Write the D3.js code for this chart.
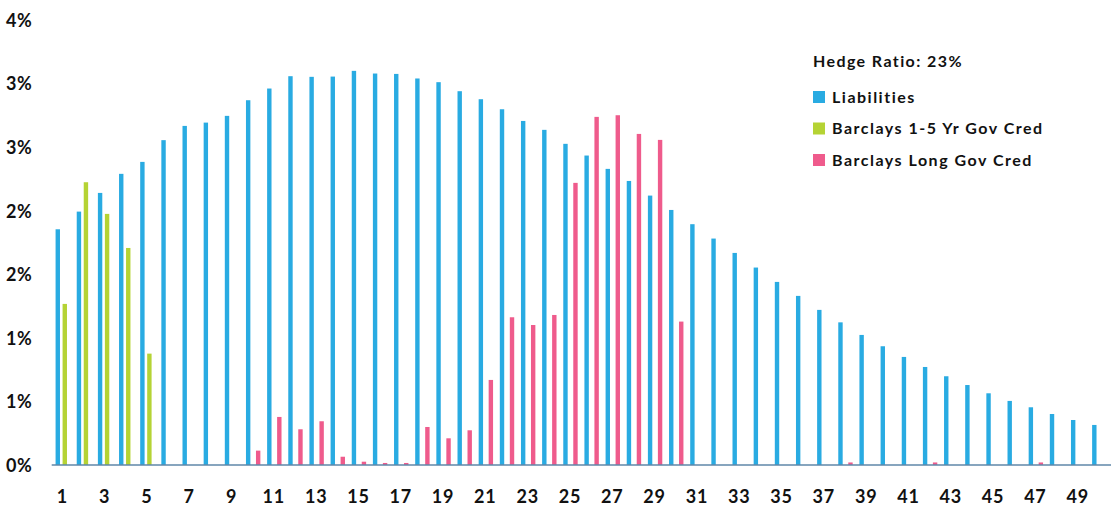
<!DOCTYPE html>
<html>
<head>
<meta charset="utf-8">
<script src="https://cdn.jsdelivr.net/npm/d3@7"></script>
<style>
  html, body { margin: 0; padding: 0; background: #fff; }
  svg { display: block; }
  text { font-family: Lato, "Open Sans", sans-serif; font-weight: 700; fill: #111; }
</style>
</head>
<body>
<svg id="chart" width="1112" height="508"></svg>
<script>
// ---- data ----
const categories = d3.range(1, 51);
const liabilities = [1.854, 1.993, 2.140, 2.290, 2.384, 2.555, 2.667, 2.693, 2.746, 2.869,
  2.961, 3.058, 3.053, 3.055, 3.100, 3.079, 3.076, 3.040, 3.011, 2.940,
  2.877, 2.798, 2.706, 2.636, 2.526, 2.434, 2.329, 2.234, 2.119, 2.006,
  1.894, 1.781, 1.668, 1.553, 1.440, 1.330, 1.220, 1.122, 1.023, 0.934,
  0.850, 0.771, 0.698, 0.629, 0.564, 0.504, 0.454, 0.401, 0.354, 0.315];
const barclays15 = [1.267, 2.224, 1.975, 1.707, 0.876, 0, 0, 0, 0, 0,
  0, 0, 0, 0, 0, 0, 0, 0, 0, 0,
  0, 0, 0, 0, 0, 0, 0, 0, 0, 0,
  0, 0, 0, 0, 0, 0, 0, 0, 0, 0,
  0, 0, 0, 0, 0, 0, 0, 0, 0, 0];
const barclaysLong = [0, 0, 0, 0, 0, 0, 0, 0, 0, 0.113,
  0.378, 0.281, 0.344, 0.065, 0.026, 0.016, 0.016, 0.299, 0.210, 0.273,
  0.669, 1.162, 1.101, 1.180, 2.219, 2.738, 2.751, 2.604, 2.557, 1.128,
  0, 0, 0, 0, 0, 0, 0, 0.02, 0, 0,
  0, 0.02, 0, 0, 0, 0, 0.02, 0, 0, 0];
const seriesNames = ["Liabilities", "Barclays 1-5 Yr Gov Cred", "Barclays Long Gov Cred"];
const seriesColors = ["#29abe2", "#b5d334", "#ef5b8c"];
const yTicks = [0, 0.5, 1, 1.5, 2, 2.5, 3, 3.5];
const yTickLabels = ["0%", "1%", "1%", "2%", "2%", "3%", "3%", "4%"];
const xTickLabels = categories.filter(c => c % 2 === 1);
const legendTitle = "Hedge Ratio: 23%";

// ---- layout ----
const svg = d3.select("#chart");
const x = d3.scaleBand().domain(categories).range([51.7, 1109.4]).padding(0);
const y = d3.scaleLinear().domain([0, 3.5]).range([465, 20]);
const seriesOffset = d3.scaleOrdinal().domain(seriesNames).range([-4.5, 2.5, 5.5]);
const color = d3.scaleOrdinal().domain(seriesNames).range(seriesColors);
const barW = 4.4;

const allSeries = [liabilities, barclays15, barclaysLong];
const barData = [];
seriesNames.forEach((s, si) => {
  categories.forEach((c, i) => {
    const v = allSeries[si][i];
    if (v > 0) barData.push({ series: s, cat: c, value: v });
  });
});

// bars
svg.append("g").selectAll("rect").data(barData).join("rect")
  .attr("x", d => x(d.cat) + x.bandwidth() / 2 + seriesOffset(d.series) - barW / 2)
  .attr("y", d => y(d.value))
  .attr("width", barW)
  .attr("height", d => y(0) - y(d.value))
  .attr("fill", d => color(d.series));

// baseline
svg.append("line")
  .attr("x1", x.range()[0]).attr("x2", 1111)
  .attr("y1", y(0)).attr("y2", y(0))
  .attr("stroke", "#5f87a9").attr("stroke-width", 1.6);

// y axis
const yAxis = svg.append("g").attr("transform", "translate(6,0)")
  .call(d3.axisLeft(y).tickValues(yTicks).tickFormat((d, i) => yTickLabels[i]).tickSize(0));
yAxis.select(".domain").remove();
yAxis.selectAll("text")
  .attr("x", 0).attr("dy", "0.35em")
  .attr("text-anchor", "start")
  .style("font-size", "18px").style("font-family", "Lato, sans-serif").style("font-weight", 700)
  .style("letter-spacing", "0.5px").style("fill", "#111");

// x axis
const xAxis = svg.append("g").attr("transform", `translate(0,${y(0)})`)
  .call(d3.axisBottom(x).tickValues(xTickLabels).tickSize(0));
xAxis.select(".domain").remove();
xAxis.selectAll("text")
  .attr("y", 31.5).attr("dy", "0.35em")
  .style("font-size", "18px").style("font-family", "Lato, sans-serif").style("font-weight", 700)
  .style("letter-spacing", "0.8px").style("fill", "#111");

// legend
const legend = svg.append("g").attr("transform", "translate(813,0)");
legend.append("text").attr("x", 0).attr("y", 66.5)
  .style("font-size", "16px").style("letter-spacing", "1.4px").text(legendTitle);
seriesNames.forEach((s, i) => {
  const cy = 97 + i * 31.5;
  legend.append("rect").attr("x", 0).attr("y", cy - 6).attr("width", 12).attr("height", 12)
    .attr("fill", color(s));
  legend.append("text").attr("x", 19).attr("y", cy).attr("dy", "0.35em")
    .style("font-size", "16px").style("letter-spacing", "1.5px").text(s);
});
</script>
</body>
</html>
